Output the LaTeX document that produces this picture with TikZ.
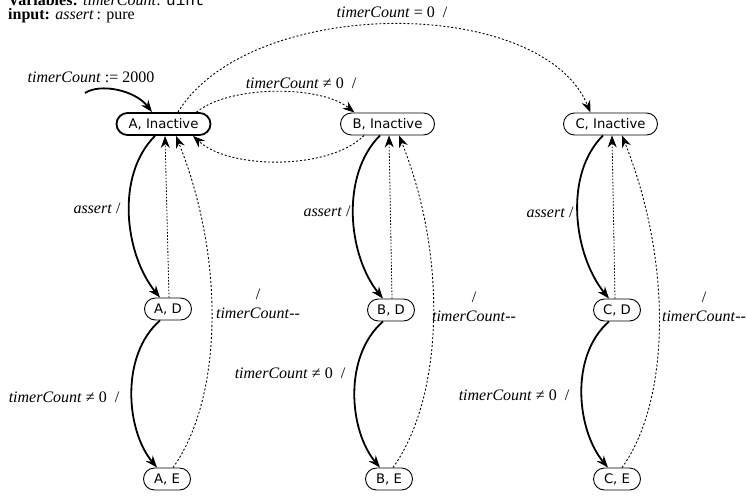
\documentclass[tikz,border=0pt]{standalone}
\usepackage{fontspec}
\setmainfont{Liberation Serif}
\setmonofont{Liberation Mono}
\newfontfamily\statefont{DejaVu Sans}
\usetikzlibrary{arrows.meta}
\begin{document}
\begin{tikzpicture}[x=1pt,y=-1pt,
  state/.style={draw, rounded corners=11pt, minimum height=22pt, inner xsep=9pt, inner ysep=0pt,
    font=\statefont\fontsize{13.2}{15}\selectfont, line width=0.9pt, minimum width=47pt},
  inact/.style={state, minimum width=94pt},
  lbl/.style={font=\fontsize{16}{19}\selectfont, inner sep=0pt, align=center},
  hdr/.style={anchor=base west, inner sep=0pt, font=\fontsize{16}{18}\selectfont},
  main/.style={line width=1.8pt, -{Stealth[length=12pt,width=9pt]}},
  dots/.style={line width=0.9pt, dash pattern=on 2pt off 2pt, -{Stealth[length=12pt,width=9pt]}},
  fdots/.style={line width=0.8pt, dash pattern=on 1.6pt off 1.6pt, -{Stealth[length=12pt,width=9pt]}},
]
\useasboundingbox (0,0) rectangle (747,496);

% header
\node[hdr] (hdr1) at (8,5) {\textbf{Variables:} \textit{timerCount}: \texttt{uint}};
\node[hdr] (hdr2) at (8,19.5) {\textbf{input:} \textit{assert}\,: pure};

% states
\node[inact, line width=1.8pt] (AI) at (163.5,124) {A, Inactive};
\node[inact] (BI) at (387.5,124) {B, Inactive};
\node[inact] (CI) at (610.5,124) {C, Inactive};
\node[state] (AD) at (168,309) {A, D};
\node[state] (BD) at (391,310) {B, D};
\node[state] (CD) at (617,310) {C, D};
\node[state] (AE) at (167,479) {A, E};
\node[state] (BE) at (389,479) {B, E};
\node[state] (CE) at (617,479) {C, E};

% initial
\coordinate (init) at (85,93);
\draw[main] (init) .. controls (100,83) and (135,90) .. ([xshift=-11.5pt]AI.north);
\node[lbl] (linit) at (91,77) {\textit{timerCount} := 2000};

% top transitions
\draw[dots] ([xshift=14.5pt]AI.north) .. controls (250,-5) and (542,-5) .. ([xshift=-20pt]CI.north);
\node[lbl] (lzero) at (392,12) {\textit{timerCount} = 0\ \ /};
\draw[dots] ([xshift=33pt]AI.north) .. controls (230,85) and (320,85) .. ([xshift=-33pt]BI.north);
\node[lbl] (lnz) at (301,83) {\textit{timerCount} ≠ 0\ \ /};
\draw[dots] ([xshift=-23.5pt]BI.south) .. controls (330,170) and (230,170) .. ([xshift=29.5pt]AI.south);

% column A
\draw[main] ([xshift=-8.5pt]AI.south) .. controls +(-40,40) and +(-35,-43) .. ([xshift=-8pt]AD.north);
\draw[fdots] ([xshift=1pt]AD.north) -- ([xshift=1.5pt]AI.south);
\draw[dots] ([xshift=6pt]AE.north) .. controls +(49,-68) and +(50,125) .. ([xshift=12.5pt]AI.south);
\draw[main] ([xshift=-8pt]AD.south) .. controls +(-40,35) and +(-31,-37) .. ([xshift=-10pt]AE.north);
\node[lbl] (la1) at (97,208) {\textit{assert} /};
\node[lbl] (la2) at (258,304) {/\\\textit{timerCount}-{}-};
\node[lbl] (la3) at (64,397) {\textit{timerCount} ≠ 0\ \ /};

% column B
\draw[main] ([xshift=-7.5pt]BI.south) .. controls +(-40,40) and +(-35,-43) .. ([xshift=-8pt]BD.north);
\draw[fdots] ([xshift=1pt]BD.north) -- ([xshift=1.5pt]BI.south);
\draw[dots] ([xshift=4pt]BE.north) .. controls +(49,-68) and +(50,125) .. ([xshift=11.5pt]BI.south);
\draw[main] ([xshift=-8pt]BD.south) .. controls +(-40,35) and +(-31,-37) .. ([xshift=-9pt]BE.north);
\node[lbl] (lb1) at (327,211) {\textit{assert} /};
\node[lbl] (lb2) at (474,307) {/\\\textit{timerCount}-{}-};
\node[lbl] (lb3) at (290,373) {\textit{timerCount} ≠ 0\ \ /};

% column C
\draw[main] ([xshift=-7.5pt]CI.south) .. controls +(-40,40) and +(-35,-43) .. ([xshift=-8pt]CD.north);
\draw[fdots] ([xshift=-2pt]CD.north) -- ([xshift=1.5pt]CI.south);
\draw[dots] ([xshift=5pt]CE.north) .. controls +(49,-68) and +(50,125) .. ([xshift=11.5pt]CI.south);
\draw[main] ([xshift=-8pt]CD.south) .. controls +(-40,35) and +(-31,-37) .. ([xshift=-9pt]CE.north);
\node[lbl] (lc1) at (550,212) {\textit{assert} /};
\node[lbl] (lc2) at (704,307) {/\\\textit{timerCount}-{}-};
\node[lbl] (lc3) at (514,395) {\textit{timerCount} ≠ 0\ \ /};
\end{tikzpicture}
\end{document}
